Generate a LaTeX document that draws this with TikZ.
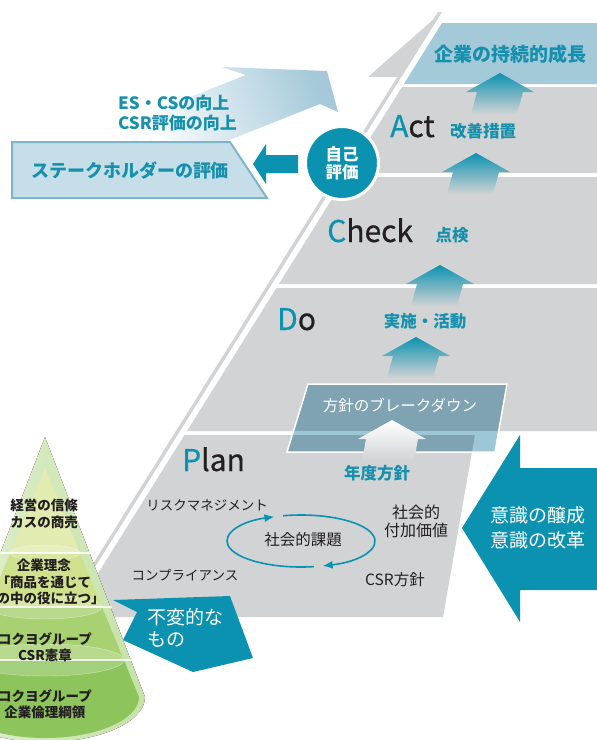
\documentclass[tikz,border=0pt]{standalone}
\usepackage{fontspec}
\setmainfont{Noto Sans CJK JP}
\newfontfamily\pdcafont{Noto Sans CJK JP}[FakeBold=0.6]
\usetikzlibrary{arrows.meta}

\definecolor{kteal}{HTML}{0B92B0}
\definecolor{ktext}{HTML}{1690AC}
\definecolor{kgray}{HTML}{D1D3D4}
\definecolor{kdark}{HTML}{231F20}
\definecolor{ksky}{HTML}{A4C9D9}
\definecolor{kpale}{HTML}{C6DEE8}
\definecolor{kedge}{HTML}{7FB5C9}
\definecolor{kbox}{HTML}{7FA3B2}
\definecolor{kboxw}{HTML}{9DC6D6}
\definecolor{kfade}{HTML}{A5C9DA}
\definecolor{cone0}{HTML}{E3F0D3}
\definecolor{cone1}{HTML}{C6E1A8}
\definecolor{tierA}{HTML}{E2EBB0}
\definecolor{tierB}{HTML}{F4F6CC}
\definecolor{tierC}{HTML}{CFE18C}
\definecolor{tierD}{HTML}{ECE94C}
\definecolor{tierE}{HTML}{A8D172}
\definecolor{tierF}{HTML}{CBE2A2}
\definecolor{tierG}{HTML}{8DC55C}
\definecolor{tierH}{HTML}{C6D0BD}

\newcommand\jfs[2]{\fontsize{#1}{#2}\selectfont}

\begin{document}
\begin{tikzpicture}[x=1pt,y=-1pt,
	lbl/.style={inner sep=0pt,align=center},
	teallbl/.style={lbl,text=ktext,font=\jfs{16.5}{19}\bfseries},
	darklbl/.style={lbl,text=kdark,font=\jfs{13.5}{16}},
	conelbl/.style={lbl,text=kdark,font=\jfs{13.5}{16.5}\bfseries},
	pdca/.style={anchor=base west,inner sep=0pt,text=kdark,font=\pdcafont\jfs{30}{30}},
	uparrow/.style={top color=kteal,middle color=kteal!75!kgray,bottom color=kgray},
	cycarrow/.style={kteal,line width=1.6pt,-{Latex[length=10pt,width=8pt]}}]
	\useasboundingbox (0,0) rectangle (597,740);
	\clip (0,0) rectangle (597,740);

	% fading arrow behind the feedback texts
	\shade[top color=kfade,bottom color=white,shading angle=-68]
		(222,67) -- (327,71) -- (338,112) -- (320,104) -- (199,152) -- (125,123) -- (246,75) -- cycle;

	% thin rail and the PDCA steps
	\fill[kgray] (441.9,12) -- (49.4,640) -- (45.4,640) -- (437.9,12) -- cycle;
	\fill[kgray] (441.9,12) -- (401.2,77) -- (368,77) -- cycle;
	\fill[ksky] (442,23) -- (597,23) -- (597,84) -- (403.9,84) -- cycle;
	\foreach \t/\b in {87/173,177/284,288/431}
		\fill[kgray] ({442-0.625*(\t-23)},\t) -- (597,\t) -- (597,\b) -- ({442-0.625*(\b-23)},\b) -- cycle;
	\fill[kgray] (184.5,435) -- (475,435) -- (443,617) -- (70.8,617) -- cycle;

	\foreach \x/\y in {500/73,476/153,440/265,416/337}
		\shade[uparrow] (\x,\y) -- ++(34,19) -- ++(-11,0) -- ++(-6,22) -- ++(-46,0) -- ++(6,-22) -- ++(-11,0) -- cycle;

	% policy breakdown box
	\fill[kbox] (308,384) -- (507,384) -- (495,452) -- (287,452) -- cycle;
	\begin{scope}
		\clip (308,384) -- (507,384) -- (495,452) -- (287,452) -- cycle;
		\fill[kboxw] (280,431) rectangle (597,435);
		\fill[kboxw] (475,435) -- (597,435) -- (597,617) -- (443,617) -- cycle;
	\end{scope}
	\draw[white,line width=1.5pt] (308,384) -- (507,384) -- (495,452) -- (287,452) -- cycle;
	\shade[top color=white,bottom color=kgray] (392,420) -- ++(34,19) -- ++(-8,0) -- ++(-4,22) -- ++(-52,0) -- ++(4,-22) -- ++(-8,0) -- cycle;

	\node[lbl,text=ktext,font=\jfs{19}{22}\bfseries] (goal) at (510,54) {企業の持続的成長};
	\node[pdca] (act) at (390,137) {\textcolor{kteal}{A}ct};
	\node[pdca] (check) at (327,242) {\textcolor{kteal}{C}heck};
	\node[pdca] (do) at (277,330) {\textcolor{kteal}{D}o};
	\node[pdca] (plan) at (182,471) {\textcolor{kteal}{P}lan};
	\node[teallbl] (kaizen) at (483,131) {改善措置};
	\node[teallbl] (tenken) at (452,235) {点検};
	\node[teallbl] (jisshi) at (425,321) {実施・活動};
	\node[teallbl] (nendo) at (377,473) {年度方針};
	\node[lbl,text=white,font=\jfs{15.5}{18}] (breakdown) at (400,406) {方針のブレークダウン};

	% cycle of social issues
	\coordinate (cyc) at (301,541);
	\draw[cycarrow] (cyc) ++(80:74 and 26) arc[start angle=80,end angle=249,x radius=74,y radius=26];
	\draw[cycarrow] (cyc) ++(256:74 and 26) arc[start angle=256,end angle=433,x radius=74,y radius=26];
	\node[lbl,text=kdark,font=\jfs{15.5}{18}] (kadai) at (303,540) {社会的課題};
	\node[darklbl] (risk) at (207,505) {リスクマネジメント};
	\node[darklbl] (comp) at (185,575) {コンプライアンス};
	\node[lbl,text=kdark,font=\jfs{16}{18}] (fuka) at (416,521) {社会的\\付加価値};
	\node[lbl,text=kdark,font=\jfs{15.5}{18}] (csrp) at (395,580) {CSR方針};

	% self evaluation and stakeholders
	\node[circle,fill=kteal,draw=white,line width=3pt,minimum size=73pt,inner sep=0pt,
		text=white,align=center,font=\jfs{16.5}{18.5}\bfseries] (self) at (342,163) {自己\\評価};
	\fill[kteal] (253,164) -- (266,144) -- (266,155) -- (298,155) -- (298,173) -- (266,173) -- (266,184) -- cycle;
	\filldraw[fill=kpale,draw=kedge,line width=2pt] (12,142) -- (230,142) -- (267,198) -- (12,198) -- cycle;
	\node[lbl,text=ktext,font=\jfs{18}{21}\bfseries] (stake) at (130,171) {ステークホルダーの評価};
	\node[lbl,anchor=west,align=left,text=ktext,font=\jfs{17}{20}\bfseries] (escs) at (118,113.5) {ES・CSの向上\\CSR評価の向上};

	% cone of unchanging values
	\fill[left color=cone0,right color=cone1] (45,437) -- (145,697) arc[start angle=0,end angle=180,x radius=100,y radius=45] -- cycle;
	\begin{scope}
		\clip (45,468) -- (139,697) arc[start angle=0,end angle=180,x radius=94,y radius=41] -- cycle;
		\shade[left color=tierA,middle color=tierB,right color=tierA] (-60,437) rectangle (150,553);
		\shade[left color=tierC,middle color=tierD,right color=tierC] (-60,553) rectangle (150,607);
		\shade[left color=tierE,middle color=tierF,right color=tierE] (-60,607) rectangle (150,660);
		\shade[left color=tierG,middle color=tierH,right color=tierG] (-60,660) rectangle (150,745);
	\end{scope}
	\foreach \y in {553,607,660}
		\draw[white,line width=2pt,opacity=.8] (-5,\y) -- ({47+0.385*(\y-437)},\y);
	\foreach \y/\r/\h in {553/35/8,607/57/12,660/79/16}
		\draw[white,opacity=.5,fill=white,fill opacity=.2] (45,\y) ellipse[x radius=\r,y radius=\h];
	\node[conelbl] (shinjo) at (44,514) {経営の信條\\カスの商売};
	\node[conelbl] (rinen) at (44,582) {企業理念\\「商品を通じて\\世の中の役に立つ」};
	\node[conelbl] (kensho) at (45,647) {コクヨグループ\\CSR憲章};
	\node[conelbl] (koryo) at (45,704) {コクヨグループ\\企業倫理綱領};

	% side arrows
	\fill[kteal] (113,600) -- (230,596) -- (253,658) -- (193,672) -- (123,640) -- (137,612) -- cycle;
	\node[lbl,anchor=west,align=left,text=white,font=\jfs{19}{22}] (fuhen) at (147,627.5) {不変的な\\もの};
	\fill[kteal] (462,528) -- (520,435) -- (520,468) -- (600,468) -- (600,590) -- (520,590) -- (520,622) -- cycle;
	\node[lbl,text=white,font=\jfs{19}{25}] (ishiki) at (538,528) {意識の醸成\\意識の改革};
\end{tikzpicture}
\end{document}
